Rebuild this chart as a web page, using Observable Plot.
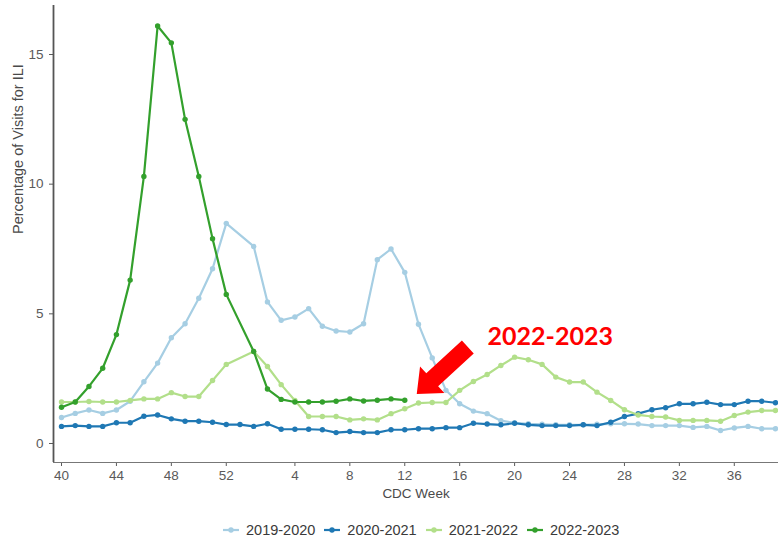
<!DOCTYPE html>
<html>
<head>
<meta charset="utf-8">
<script src="https://cdn.jsdelivr.net/npm/d3@7"></script>
<script src="https://cdn.jsdelivr.net/npm/@observablehq/plot@0.6"></script>
<style>
  html, body { margin: 0; padding: 0; background: #fff; }
  body { width: 778px; height: 546px; overflow: hidden; font-family: "Liberation Sans", Arial, sans-serif; }
  #legend { display: flex; align-items: center; gap: 9px; padding-left: 223px; margin-top: 16px; height: 18px; font-size: 14.5px; color: #3a3a3a; }
  #legend .item { display: flex; align-items: center; }
  #legend svg { margin-right: 7px; }
</style>
</head>
<body>
<div id="chart"></div>
<div id="legend"></div>
<script>
// CDC week order of the season (week 53 only exists in 2020-2021)
const weeks = [40,41,42,43,44,45,46,47,48,49,50,51,52,53,1,2,3,4,5,6,7,8,9,10,11,12,13,14,15,16,17,18,19,20,21,22,23,24,25,26,27,28,29,30,31,32,33,34,35,36,37,38,39];
const seasons = ["2019-2020", "2020-2021", "2021-2022", "2022-2023"];
const colors = ["#a6cee3", "#1f78b4", "#b2df8a", "#33a02c"];

// Percentage of visits for ILI, one value per week above (null = no data)
const s2019 = [1.0,1.16,1.29,1.16,1.29,1.63,2.38,3.1,4.08,4.62,5.6,6.74,8.49,null,7.6,5.46,4.75,4.88,5.2,4.52,4.34,4.3,4.62,7.09,7.5,6.6,4.6,3.3,2.05,1.53,1.25,1.15,0.88,0.8,0.76,0.74,0.72,0.72,0.72,0.74,0.76,0.76,0.75,0.69,0.69,0.69,0.62,0.66,0.5,0.6,0.66,0.57,0.57];
const s2020 = [0.66,0.69,0.66,0.66,0.8,0.8,1.05,1.1,0.95,0.86,0.86,0.82,0.73,0.73,0.66,0.76,0.55,0.55,0.55,0.53,0.42,0.46,0.42,0.42,0.53,0.53,0.57,0.57,0.61,0.61,0.78,0.75,0.72,0.78,0.72,0.69,0.69,0.69,0.72,0.69,0.82,1.04,1.15,1.3,1.38,1.53,1.53,1.59,1.5,1.5,1.63,1.63,1.57];
const s2021 = [1.6,1.6,1.62,1.6,1.6,1.66,1.72,1.72,1.96,1.81,1.81,2.43,3.05,null,3.55,2.97,2.27,1.66,1.04,1.04,1.04,0.91,0.95,0.91,1.15,1.34,1.56,1.58,1.58,2.05,2.39,2.66,3.01,3.33,3.23,3.05,2.56,2.37,2.37,1.98,1.66,1.3,1.1,1.04,1.02,0.89,0.89,0.89,0.86,1.08,1.21,1.27,1.27];
const s2022 = [1.4,1.6,2.2,2.9,4.2,6.3,10.3,16.1,15.45,12.5,10.3,7.9,5.75,null,3.55,2.1,1.7,1.6,1.6,1.6,1.63,1.72,1.64,1.67,1.72,1.67,null,null,null,null,null,null,null,null,null,null,null,null,null,null,null,null,null,null,null,null,null,null,null,null,null,null,null];
const seriesValues = [s2019, s2020, s2021, s2022];

const xTickWeeks = [40,44,48,52,4,8,12,16,20,24,28,32,36];
const yTicks = [0, 5, 10, 15];
const yLabel = "Percentage of Visits for ILI";
const xLabel = "CDC Week";
const calloutText = "2022-2023";
// callout arrow (tail and tip) and text anchor in data units (week index, %)
const arrowTail = [29.63, 3.70];
const arrowTip = [25.91, 1.89];
const calloutAt = [31.03, 4.09];

const rows = [];
seasons.forEach((s, k) => {
  seriesValues[k].forEach((v, i) => {
    if (v != null) rows.push({season: s, idx: i, week: weeks[i], value: v});
  });
});

const xDomain = [-0.583, 52.22];
const yDomain = [-0.733, 16.89];
const font = "Liberation Sans, Arial, sans-serif";

function arrowMark(index, scales) {
  const X = scales.x, Y = scales.y;
  const T = [X(arrowTail[0]), Y(arrowTail[1])];
  const P = [X(arrowTip[0]), Y(arrowTip[1])];
  const dx = P[0] - T[0], dy = P[1] - T[1];
  const len = Math.hypot(dx, dy);
  const u = [dx / len, dy / len], n = [-u[1], u[0]];
  const hl = 21, hw = 36, sw = 17.5;
  const B = [P[0] - u[0] * hl, P[1] - u[1] * hl];
  const pt = (o, s) => [o[0] + n[0] * s, o[1] + n[1] * s];
  const pts = [pt(T, sw / 2), pt(B, sw / 2), pt(B, hw / 2), P, pt(B, -hw / 2), pt(B, -sw / 2), pt(T, -sw / 2)];
  const g = d3.create("svg:g");
  g.append("path").attr("d", "M" + pts.map(p => p.join(",")).join("L") + "Z").attr("fill", "#ff0000");
  return g.node();
}

const seasonMarks = seasons.flatMap((s, k) => {
  const d = rows.filter(r => r.season === s);
  return [
    Plot.line(d, {x: "idx", y: "value", stroke: colors[k], strokeWidth: 2.2}),
    Plot.dot(d, {x: "idx", y: "value", fill: colors[k], r: 2.7})
  ];
});

const chart = Plot.plot({
  width: 778,
  height: 505,
  marginLeft: 53,
  marginRight: 0,
  marginTop: 5,
  marginBottom: 43,
  style: {fontFamily: font, background: "#fff", overflow: "visible"},
  x: {type: "linear", domain: xDomain, label: null},
  y: {domain: yDomain, label: null},
  marks: [
    Plot.axisY({ticks: yTicks, tickSize: 4, tickPadding: 6, fontSize: 13.5, color: "#5a5a5a", label: null}),
    Plot.axisX({ticks: xTickWeeks.map(w => weeks.indexOf(w)), tickFormat: i => weeks[i], tickSize: 4, tickPadding: 4, fontSize: 13.5, color: "#5a5a5a", label: null}),
    Plot.ruleX([xDomain[0]], {stroke: "#555", strokeWidth: 1.8}),
    Plot.ruleY([yDomain[0]], {stroke: "#777", strokeWidth: 1.2}),
    ...seasonMarks,
    arrowMark,
    Plot.text([calloutText], {x: () => calloutAt[0], y: () => calloutAt[1], text: d => d, textAnchor: "start", lineAnchor: "middle", fill: "#ff0000", fontSize: 25, fontWeight: "bold", fontFamily: "Lato, Liberation Sans, sans-serif"}),
    Plot.text([yLabel], {frameAnchor: "left", rotate: -90, dx: -35, text: d => d, fontSize: 14.5, fill: "#4a4a4a"}),
    Plot.text([xLabel], {frameAnchor: "bottom", dy: 35, text: d => d, fontSize: 13.5, fill: "#4a4a4a"})
  ]
});
document.getElementById("chart").appendChild(chart);

const legend = document.getElementById("legend");
seasons.forEach((s, k) => {
  const item = document.createElement("div");
  item.className = "item";
  item.innerHTML = `<svg width="16" height="10"><line x1="0" y1="5" x2="16" y2="5" stroke="${colors[k]}" stroke-width="2.2"/><circle cx="8" cy="5" r="2.7" fill="${colors[k]}"/></svg><span>${s}</span>`;
  legend.appendChild(item);
});
</script>
</body>
</html>
